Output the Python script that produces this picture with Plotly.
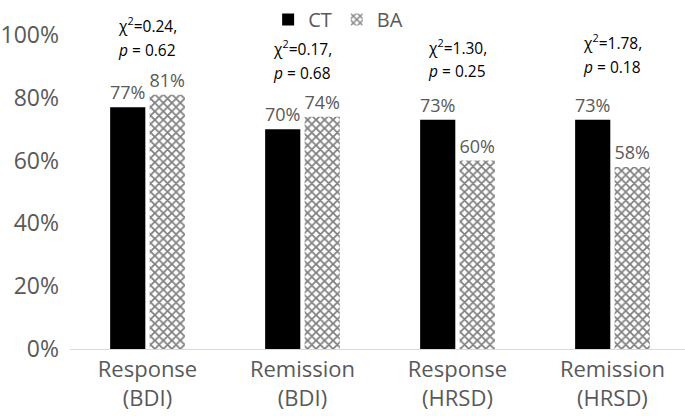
import plotly.graph_objects as go

categories = ["Response<br>(BDI)", "Remission<br>(BDI)", "Response<br>(HRSD)", "Remission<br>(HRSD)"]
ct_values = [77, 70, 73, 73]
ba_values = [81, 74, 60, 58]
chi_labels = ["0.24", "0.17", "1.30", "1.78"]
p_labels = ["0.62", "0.68", "0.25", "0.18"]
y_ticks = [0, 20, 40, 60, 80, 100]
y_tick_text = ["0%", "20%", "40%", "60%", "80%", "100%"]

# annotation placement (layout, fraction of plot height)
chi_line_y = [1.032, 0.959, 0.962, 0.978]
p_line_y = [0.952, 0.879, 0.885, 0.898]

gray = "#595959"
FONT = "Open Sans"

fig = go.Figure()
fig.add_trace(go.Bar(
    x=categories, y=ct_values, name="CT",
    marker=dict(color="black", line=dict(width=0)),
    text=[f"{v}%" for v in ct_values], textposition="outside", constraintext="none",
    textfont=dict(color=gray, size=18, family=FONT),
    cliponaxis=False,
))
fig.add_trace(go.Bar(
    x=categories, y=ba_values, name="BA",
    marker=dict(color="white", line=dict(width=0),
                pattern=dict(shape="x", fgcolor="#000000", bgcolor="white", size=6, solidity=0.5)),
    text=[f"{v}%" for v in ba_values], textposition="outside", constraintext="none",
    textfont=dict(color=gray, size=18, family=FONT),
    cliponaxis=False,
))

for c, chi, p, y1, y2 in zip(categories, chi_labels, p_labels, chi_line_y, p_line_y):
    fig.add_annotation(
        x=c, y=y1, xref="x", yref="paper",
        text=f"χ<sup>2</sup>={chi},",
        showarrow=False, yanchor="middle", xanchor="center",
        font=dict(size=15.5, color="black", family=FONT),
    )
    fig.add_annotation(
        x=c, y=y2, xref="x", yref="paper",
        text=f"<i>p</i> = {p}",
        showarrow=False, yanchor="middle", xanchor="center",
        font=dict(size=15.5, color="black", family=FONT),
    )

fig.update_layout(
    width=685, height=416,
    margin=dict(l=70, r=0, t=35, b=67),
    plot_bgcolor="white", paper_bgcolor="white",
    barmode="group", bargap=0.49, bargroupgap=0.11,
    font=dict(family=FONT, color=gray),
    showlegend=True,
    legend=dict(orientation="h", x=0.436, xanchor="center", y=1.1115, yanchor="top",
                font=dict(size=20, color=gray), traceorder="normal"),
    xaxis=dict(showline=True, linecolor="#d9d9d9", linewidth=1, ticks="",
               range=[-0.5, 3.468], automargin=False, ticklabelstandoff=1,
               tickfont=dict(size=22, color=gray, family=FONT)),
    yaxis=dict(range=[0, 100], tickvals=y_ticks, ticktext=y_tick_text, showgrid=False,
               zeroline=False, showline=False, ticks="", ticklabelstandoff=10, automargin=False,
               tickfont=dict(size=23, color=gray, family=FONT)),
)

fig.write_html("out.html", config={"displayModeBar": False},
               post_script="document.body.style.margin='0';document.body.style.overflow='hidden';")
